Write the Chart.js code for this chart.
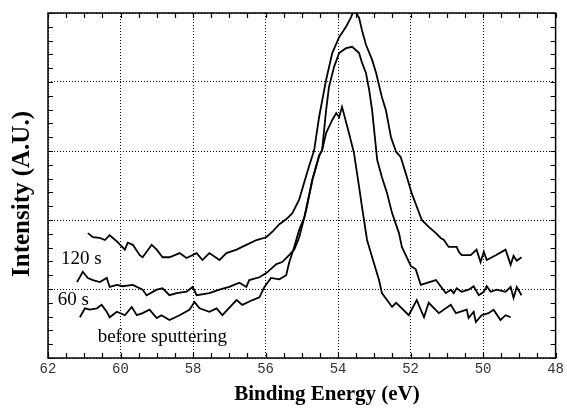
<!DOCTYPE html>
<html>
<head>
<meta charset="utf-8">
<script src="https://cdn.jsdelivr.net/npm/chart.js@4"></script>
<style>
html, body { margin: 0; padding: 0; background: #fff; }
#wrap { width: 567px; height: 410px; }
</style>
</head>
<body>
<div id="wrap"><canvas id="xps"></canvas></div>
<script>
// binding energy (eV) / intensity (A.U.)
const energy120 = [
    60.90,60.76,60.57,60.43,60.30,60.21,60.08,59.88,59.80,59.66,
    59.47,59.39,59.14,59.00,58.84,58.65,58.37,58.18,57.90,57.74,
    57.55,57.35,57.27,57.08,56.80,56.53,56.25,55.98,55.81,55.62,
    55.43,55.26,55.07,54.93,54.80,54.66,54.52,54.33,54.16,53.97,
    53.78,53.64,53.56,53.42,53.34,53.23,53.06,52.95,52.79,52.68,
    52.54,52.40,52.27,52.10,51.97,51.69,51.50,51.30,51.17,51.08,
    50.95,50.86,50.73,50.67,50.59,50.34,50.18,50.07,49.98,49.90,
    49.65,49.38,49.24,49.16,49.07,48.94];
const intensity120 = [
    1.81,1.75,1.74,1.71,1.78,1.74,1.68,1.57,1.67,1.64,
    1.49,1.46,1.64,1.57,1.46,1.46,1.52,1.45,1.52,1.42,
    1.52,1.45,1.42,1.52,1.57,1.64,1.71,1.75,1.83,1.94,
    2.01,2.10,2.30,2.55,2.78,3.01,3.50,4.03,4.42,4.65,
    4.80,4.94,5.05,4.93,4.75,4.54,4.32,4.13,3.78,3.59,
    3.20,2.99,2.91,2.62,2.39,2.00,1.90,1.81,1.74,1.71,
    1.61,1.61,1.61,1.54,1.49,1.49,1.57,1.39,1.54,1.42,
    1.49,1.57,1.35,1.48,1.41,1.46];

const energy60 = [
    61.20,61.04,60.90,60.76,60.57,60.38,60.30,60.10,59.94,59.66,
    59.39,59.28,59.00,58.84,58.65,58.45,58.18,58.01,57.90,57.55,
    57.27,57.00,56.72,56.53,56.45,56.17,55.98,55.70,55.54,55.35,
    55.21,55.07,54.88,54.71,54.52,54.44,54.33,54.25,54.11,53.97,
    53.78,53.61,53.42,53.34,53.23,53.14,53.06,52.92,52.79,52.65,
    52.51,52.32,52.24,51.99,51.86,51.72,51.30,51.03,50.89,50.81,
    50.73,50.59,50.40,50.26,50.12,49.98,49.90,49.79,49.62,49.38,
    49.24,49.16,49.07,48.94];
const intensity60 = [
    1.10,1.25,1.16,1.13,1.10,1.16,1.03,1.06,1.04,1.06,
    0.99,0.91,0.99,1.01,0.91,0.94,0.96,1.03,0.91,0.94,
    0.99,1.03,1.09,1.03,1.13,1.17,1.23,1.36,1.39,1.49,
    1.57,1.75,2.14,2.58,2.93,3.01,3.59,3.93,4.22,4.42,
    4.49,4.51,4.42,4.28,4.13,3.88,3.59,2.87,2.62,2.39,
    2.10,1.81,1.61,1.33,1.29,1.06,1.13,0.94,0.99,0.94,
    1.01,0.96,0.99,1.04,0.91,0.96,1.04,0.96,0.99,0.96,
    1.03,0.87,1.03,0.91];

const energyBefore = [
    61.12,60.98,60.85,60.65,60.52,60.38,60.30,60.10,59.88,59.69,
    59.55,59.39,59.20,59.00,58.87,58.65,58.37,58.10,57.96,57.82,
    57.55,57.35,57.19,56.80,56.64,56.36,56.17,56.03,55.85,55.62,
    55.43,55.35,55.21,55.07,54.93,54.71,54.52,54.44,54.33,54.16,
    54.05,53.97,53.89,53.83,53.70,53.56,53.42,53.34,53.20,53.06,
    52.87,52.79,52.51,52.40,52.24,52.05,51.83,51.63,51.50,51.22,
    50.89,50.75,50.45,50.40,50.26,50.20,50.04,49.85,49.71,49.52,
    49.38,49.24];
const intensityBefore = [
    0.59,0.72,0.70,0.72,0.77,0.67,0.59,0.67,0.62,0.74,
    0.62,0.65,0.70,0.58,0.62,0.55,0.62,0.70,0.81,0.72,
    0.67,0.72,0.62,0.84,0.77,0.84,0.88,1.03,1.16,1.14,
    1.20,1.38,1.61,1.86,2.04,2.58,2.94,3.01,3.26,3.45,
    3.55,3.49,3.64,3.52,3.26,2.97,2.48,2.19,1.71,1.46,
    1.13,0.94,0.74,0.80,0.72,0.62,0.84,0.59,0.80,0.65,
    0.77,0.65,0.70,0.58,0.67,0.52,0.62,0.65,0.70,0.55,
    0.62,0.59];

const xTickValues = [62, 60, 58, 56, 54, 52, 50, 48];
const curveLabels = ['120 s', '60 s', 'before sputtering'];

// where the curve labels sit, in data units
const labelAnchors = [
    { x: 61.64, y: 1.36 },
    { x: 61.73, y: 0.77 },
    { x: 60.63, y: 0.23 }
];

function toPoints(xs, ys) {
    return xs.map((x, i) => ({ x: x, y: ys[i] }));
}

// frame with inward ticks on all four sides, plus the text
const frameAndText = {
    id: 'frameAndText',
    afterDatasetsDraw(chart) {
        const { ctx, chartArea: a } = chart;
        const xs = chart.scales.x, ys = chart.scales.y;
        ctx.save();
        ctx.strokeStyle = '#000';
        ctx.lineWidth = 1.5;
        ctx.strokeRect(a.left, a.top, a.right - a.left, a.bottom - a.top);

        ctx.lineWidth = 1.2;
        ctx.beginPath();
        for (let v = 48; v <= 62.001; v += 0.5) {
            const px = Math.round(xs.getPixelForValue(v)) + 0.5;
            ctx.moveTo(px, a.bottom); ctx.lineTo(px, a.bottom - 5);
            ctx.moveTo(px, a.top); ctx.lineTo(px, a.top + 5);
        }
        for (let v = 0; v <= 5.001; v += 0.2) {
            const py = Math.round(ys.getPixelForValue(v)) + 0.5;
            ctx.moveTo(a.left, py); ctx.lineTo(a.left + 5, py);
            ctx.moveTo(a.right, py); ctx.lineTo(a.right - 5, py);
        }
        ctx.stroke();

        ctx.fillStyle = '#000';
        ctx.font = '19px "Liberation Serif", "Times New Roman", serif';
        ctx.textAlign = 'left';
        ctx.textBaseline = 'alphabetic';
        curveLabels.forEach((t, i) => {
            ctx.fillText(t, xs.getPixelForValue(labelAnchors[i].x), ys.getPixelForValue(labelAnchors[i].y));
        });

        ctx.font = 'bold 21px "Liberation Serif", "Times New Roman", serif';
        ctx.textAlign = 'center';
        ctx.fillText('Binding Energy (eV)', 327, 400);

        ctx.save();
        ctx.translate(29, 194);
        ctx.rotate(-Math.PI / 2);
        ctx.font = 'bold 25px "Liberation Serif", "Times New Roman", serif';
        ctx.fillText('Intensity (A.U.)', 0, 0);
        ctx.restore();

        ctx.restore();
    }
};

const lineStyle = {
    borderColor: '#000',
    borderWidth: 1.8,
    pointRadius: 0,
    tension: 0,
    fill: false
};

new Chart(document.getElementById('xps'), {
    type: 'line',
    data: {
        datasets: [
            Object.assign({ label: curveLabels[0], data: toPoints(energy120, intensity120) }, lineStyle),
            Object.assign({ label: curveLabels[1], data: toPoints(energy60, intensity60) }, lineStyle),
            Object.assign({ label: curveLabels[2], data: toPoints(energyBefore, intensityBefore) }, lineStyle)
        ]
    },
    options: {
        responsive: true,
        maintainAspectRatio: false,
        animation: false,
        layout: { padding: { top: 13, right: 10, left: 0, bottom: 0 } },
        plugins: {
            legend: { display: false },
            tooltip: { enabled: false }
        },
        scales: {
            x: {
                type: 'linear',
                reverse: true,
                min: 48,
                max: 62,
                afterBuildTicks: s => { s.ticks = xTickValues.map(v => ({ value: v })); },
                afterFit: s => { s.height = 52; },
                ticks: {
                    padding: 3,
                    color: '#333',
                    font: { family: '"Liberation Mono", "DejaVu Sans Mono", monospace', size: 14 },
                    maxRotation: 0,
                    callback: v => String(v)
                },
                grid: { color: '#000', lineWidth: 1, drawTicks: false },
                border: { display: false, dash: [1, 2] }
            },
            y: {
                min: 0,
                max: 5,
                ticks: { stepSize: 1, display: false },
                afterFit: s => { s.width = 48; },
                grid: { color: '#000', lineWidth: 1, drawTicks: false },
                border: { display: false, dash: [1, 2] }
            }
        }
    },
    plugins: [frameAndText]
});
</script>
</body>
</html>
